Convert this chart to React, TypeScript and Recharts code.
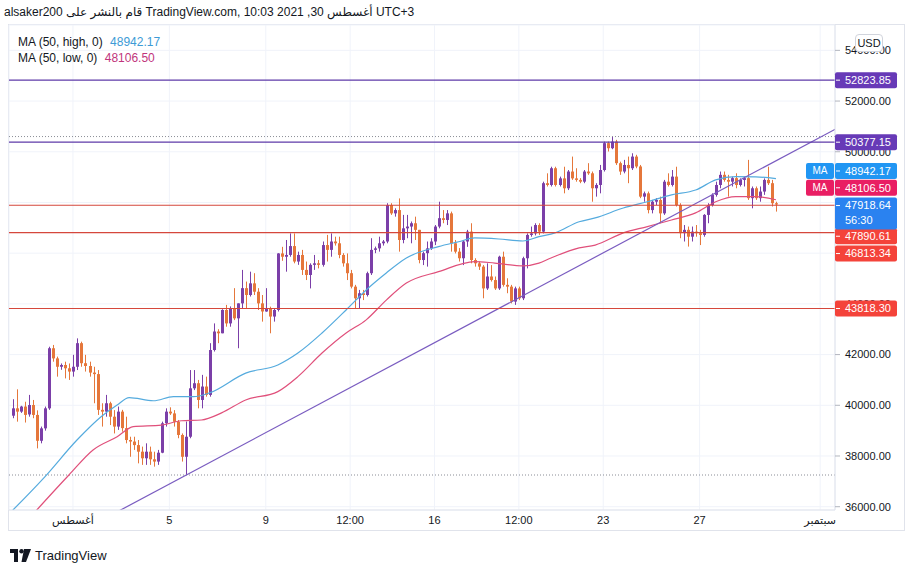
import React from "react"
import { ComposedChart, Bar, Line, XAxis, YAxis, CartesianGrid, ReferenceLine } from "recharts"

// 4h candles, UTC+3. bar 15 = Aug 1, last bar (190) = Aug 30 07:00
const opens = [
  39590, 39880, 39750, 39950, 39640, 40010, 39620, 38600, 39090, 39880, 42250, 41850, 41520, 41590, 41460, 41330, 41520, 42450, 41660, 41550,
  41290, 41230, 39820, 39750, 40080, 39550, 39160, 39750, 39100, 38630, 38570, 38430, 38170, 37910, 38170, 37870, 37780, 38130, 39290, 39750,
  39680, 39350, 38830, 37970, 38760, 40670, 40870, 40210, 40740, 40410, 42180, 42910, 42840, 43760, 43230, 43830, 43430, 44020, 44620, 44350,
  44810, 44480, 44020, 43700, 43830, 43500, 43760, 45990, 45860, 45930, 46280, 45670, 45930, 45340, 45140, 45540, 45600, 45540, 46320, 46130,
  46460, 46390, 45930, 45600, 45210, 44680, 44220, 44420, 44350, 45210, 46130, 46190, 46390, 46460, 47900, 47570, 47700, 46520, 46980, 47050,
  47180, 46920, 45730, 46000, 46190, 46460, 47050, 47380, 47310, 47570, 46390, 46060, 45800, 46460, 46850, 45730, 45600, 45470, 44610, 45080,
  44940, 44610, 45860, 44750, 44680, 44090, 44610, 44220, 45800, 46720, 46780, 47110, 46850, 48760, 48690, 49350, 48690, 48950, 48560, 49220,
  48950, 48890, 48820, 49220, 49150, 48560, 48690, 49280, 50340, 50140, 50400, 49550, 49220, 49480, 49350, 49810, 49420, 48230, 48360, 47700,
  48030, 48100, 47570, 48820, 48690, 49020, 47900, 46790, 46920, 46650, 46850, 46790, 46720, 47510, 47900, 48300, 48690, 49090, 48890, 48820,
  48960, 48690, 48890, 48960, 48170, 48560, 48170, 48430, 48890, 48760, 47970,
]
const highs = [
  40240, 40630, 39980, 40140, 40410, 40210, 39800, 39160, 39950, 42310, 42380, 41920, 41650, 41720, 41650, 41990, 42640, 42510, 41990, 41720,
  41520, 41390, 40080, 40410, 40140, 39810, 39950, 39820, 39550, 38760, 38760, 38630, 38370, 38500, 38370, 38170, 38240, 39355, 39880, 39920,
  39810, 39420, 38890, 39360, 41390, 41390, 41000, 41200, 41130, 42450, 43230, 43000, 43790, 43960, 43900, 44620, 44020, 45340, 44880, 45270,
  45210, 44620, 44350, 44620, 43890, 43830, 46000, 46250, 46520, 46780, 46780, 46060, 46130, 45670, 45600, 45930, 45730, 46460, 46720, 46780,
  46650, 46650, 46000, 45990, 45340, 44750, 44550, 44550, 45270, 46590, 46260, 46650, 46520, 47970, 47970, 47770, 48160, 47510, 47510, 47250,
  47440, 46920, 46060, 46460, 46590, 47110, 48030, 47700, 47700, 47640, 46520, 46200, 46520, 46920, 47180, 45800, 45670, 45530, 45600, 45530,
  45080, 45900, 46060, 45010, 44750, 44680, 44680, 45860, 46780, 47050, 47180, 47180, 48820, 49150, 49410, 49410, 49020, 49410, 49280, 49810,
  49350, 48960, 49280, 49550, 49220, 48760, 49480, 50400, 50400, 50600, 50470, 49610, 49680, 49810, 49940, 49880, 49480, 48430, 48430, 48100,
  48170, 48230, 48890, 49150, 49280, 49410, 47970, 47110, 47050, 47050, 47110, 46920, 47540, 47970, 48360, 48820, 49220, 49220, 49090, 49020,
  49150, 48950, 49020, 49680, 48630, 48630, 48630, 48950, 49410, 48890, 48030,
]
const lows = [
  39490, 39355, 39700, 39320, 39550, 39490, 38300, 38500, 39000, 39820, 41720, 41130, 41400, 41060, 41000, 41130, 41390, 41520, 41330, 41130,
  40080, 39620, 39160, 39550, 39220, 38890, 39030, 38960, 38500, 37970, 38240, 37710, 37650, 37650, 37650, 37580, 37650, 38110, 39160, 39620,
  39160, 38700, 37780, 37250, 38700, 40600, 39880, 39880, 40340, 40340, 42120, 42450, 42840, 43100, 43100, 43360, 42250, 43830, 43830, 44290,
  44350, 43760, 43300, 43690, 42840, 43300, 43700, 45700, 45270, 45860, 45600, 45540, 45140, 44940, 44610, 45340, 45400, 45470, 45670, 45860,
  46300, 45800, 45470, 44940, 44610, 43830, 43830, 44150, 44290, 45140, 46000, 46060, 46300, 46390, 47510, 47440, 46060, 46390, 46590, 46390,
  46520, 45600, 45530, 45470, 46130, 46320, 46980, 47180, 47110, 46060, 45990, 45670, 45530, 46250, 45600, 45470, 45340, 44220, 44550, 44880,
  44550, 44550, 44680, 44420, 44020, 43960, 44150, 44150, 45400, 46650, 46700, 46720, 46780, 48630, 48630, 48630, 48630, 48360, 48490, 48890,
  48820, 48760, 48760, 49090, 48030, 48230, 48360, 49220, 50010, 50100, 49480, 49090, 49150, 48760, 49280, 49350, 48170, 48030, 47570, 47570,
  47900, 47180, 47510, 48630, 48630, 47840, 46590, 46460, 46260, 46460, 46650, 46320, 46650, 47180, 47840, 48230, 48560, 48820, 48230, 48630,
  48560, 48630, 48630, 48100, 47770, 48100, 48030, 48300, 48690, 47840, 47640,
]
const closes = [
  39880, 39750, 39950, 39620, 40010, 39620, 38600, 39090, 39880, 42250, 41850, 41520, 41590, 41460, 41330, 41520, 42450, 41660, 41550, 41290,
  41230, 39820, 39750, 40080, 39550, 39160, 39750, 39100, 38630, 38570, 38430, 38170, 37910, 38170, 37870, 37780, 38130, 39290, 39750, 39680,
  39350, 38830, 37970, 38760, 40670, 40870, 40210, 40740, 40410, 42180, 42910, 42840, 43760, 43230, 43830, 43430, 44020, 44620, 44350, 44810,
  44480, 44020, 43700, 43830, 43500, 43760, 45990, 45860, 45930, 46280, 45670, 45930, 45340, 45140, 45540, 45600, 45540, 46320, 46130, 46460,
  46390, 45930, 45600, 45210, 44680, 44220, 44420, 44350, 45210, 46130, 46190, 46390, 46460, 47900, 47570, 47700, 46520, 46980, 47050, 47180,
  46920, 45730, 46000, 46190, 46460, 47050, 47380, 47310, 47570, 46390, 46060, 45800, 46460, 46850, 45730, 45600, 45470, 44610, 45080, 44940,
  44610, 45860, 44750, 44680, 44090, 44610, 44220, 45800, 46720, 46780, 47110, 46850, 48760, 48690, 49350, 48690, 48950, 48560, 49220, 48950,
  48890, 48820, 49220, 49150, 48560, 48690, 49280, 50340, 50140, 50400, 49550, 49220, 49480, 49350, 49810, 49420, 48230, 48360, 47700, 48030,
  48100, 47570, 48820, 48690, 49020, 47900, 46790, 46920, 46650, 46850, 46790, 46720, 47510, 47900, 48300, 48690, 49090, 48890, 48820, 48960,
  48690, 48890, 48960, 48170, 48560, 48170, 48430, 48890, 48760, 47970, 47918.64,
]

// MA(50) readings at some bars
const maHighBars = [0, 8, 16, 22, 26, 29, 35, 40, 45, 49, 58, 66, 71, 77, 83, 88, 93, 98, 106, 111, 115, 121, 127, 131, 135, 141, 145, 152, 158, 164, 170, 175, 180, 185, 190]
const maHighVals = [35860, 37180, 38630, 39550, 40010, 40300, 40180, 40340, 40340, 40490, 41270, 41590, 42060, 42850, 43760, 44550, 45220, 45810, 46260, 46450, 46600, 46560, 46480, 46650, 46800, 47240, 47390, 47780, 48030, 48300, 48490, 48890, 49020, 49010, 48942.17]
const maLowBars = [0, 6, 14, 20, 26, 30, 37, 42, 47, 52, 58, 66, 71, 77, 83, 88, 93, 98, 106, 115, 120, 127, 131, 134, 141, 145, 152, 158, 164, 170, 175, 180, 185, 190]
const maLowVals = [34800, 35870, 37250, 38240, 38760, 39160, 39220, 39390, 39420, 39700, 40210, 40540, 41130, 42060, 42850, 43370, 44150, 44820, 45270, 45670, 45610, 45500, 45610, 45810, 46210, 46320, 46800, 47050, 47310, 47590, 48030, 48230, 48230, 48106.5]

const tickBars = [15, 39, 63, 84, 105, 126, 147, 171, 201]
const tickLabels = ["أغسطس", "5", "9", "12:00", "16", "12:00", "23", "27", "سبتمبر"]
const priceTicks = [36000, 38000, 40000, 42000, 44000, 46000, 48000, 50000, 52000, 54000]

const purpleLevels = [52823.85, 50377.15]
const redLevels = [47890.61, 46813.34, 43818.3]
const redLabelShift = [31, 21, 0]
// trend line anchors [bar, price]
const trendPoints = [[20, 35290], [205, 50910]]

const UP = "#7b3fa8"
const DOWN = "#e5773b"
const MA_HIGH = "#55abde"
const MA_LOW = "#e0507b"

const X_DOMAIN: [number, number] = [-0.92, 204.7]
const Y_DOMAIN: [number, number] = [35870, 55000]

const data = opens.map((o, k) => {
  const hi = maHighBars.indexOf(k)
  const lo = maLowBars.indexOf(k)
  return {
    k,
    o,
    h: highs[k],
    l: lows[k],
    c: closes[k],
    range: [lows[k], highs[k]],
    maHigh: hi >= 0 ? maHighVals[hi] : null,
    maLow: lo >= 0 ? maLowVals[lo] : null,
  }
})

const maxHigh = Math.max(...highs)
const minLow = Math.min(...lows)

function Candle(props: any) {
  const { x, y, width, height, payload } = props
  if (!payload || height == null) return null
  const { o, h, l, c } = payload
  const color = c >= o ? UP : DOWN
  const per = height / (h - l || 1)
  const top = y + (h - Math.max(o, c)) * per
  const bodyH = Math.max(1, Math.abs(o - c) * per)
  const cx = Math.round(x + width / 2) + 0.5
  return (
    <g>
      <line x1={cx} x2={cx} y1={y} y2={y + height} stroke={color} strokeWidth={1} />
      <rect x={cx - 1.5} y={top} width={3} height={bodyH} fill={color} />
    </g>
  )
}

function PriceTag({ viewBox, value, bg, dy = 0, sub, ma }: any) {
  if (!viewBox) return null
  const x = viewBox.x + viewBox.width
  const cy = viewBox.y + dy
  const top = cy - 8
  return (
    <g>
      {ma && (
        <g>
          <rect x={x - 29} y={top} width={28} height={16} rx={2} fill={bg} />
          <text x={x - 15} y={cy} dy="0.35em" textAnchor="middle" fill="#fff" fontSize={10}>
            MA
          </text>
        </g>
      )}
      <rect x={x} y={top} width={62} height={sub ? 32 : 16} rx={2} fill={bg} />
      <line x1={x + 1} x2={x + 5} y1={cy} y2={cy} stroke="#fff" />
      <text x={x + 10} y={cy} dy="0.35em" fill="#fff" fontSize={11}>
        {value}
      </text>
      {sub && (
        <text x={x + 10} y={cy + 15} dy="0.35em" fill="#fff" fontSize={11}>
          {sub}
        </text>
      )}
    </g>
  )
}

function Logo() {
  return (
    <svg width="22" height="13" viewBox="0 0 22 13">
      <path d="M0 0h8v13H4V4H0z" fill="#131722" />
      <circle cx="11.5" cy="2.2" r="2.2" fill="#131722" />
      <path d="M14 0h7l-5 13h-4.5z" fill="#131722" />
    </svg>
  )
}

export default function App() {
  const lastHigh = maHighVals[maHighVals.length - 1]
  const lastLow = maLowVals[maLowVals.length - 1]
  const lastClose = closes[closes.length - 1]
  return (
    <div
      style={{
        position: "relative",
        width: 911,
        height: 573,
        background: "#fff",
        fontFamily: "'Liberation Sans', Arial, 'DejaVu Sans', sans-serif",
        color: "#131722",
        overflow: "hidden",
      }}
    >
      <style>{"body{margin:0}"}</style>
      <div style={{ position: "absolute", left: 4, top: 5, fontSize: 12, whiteSpace: "nowrap", direction: "ltr" }}>
        alsaker200 قام بالنشر على TradingView.com, أغسطس 30, 2021 10:03 UTC+3
      </div>
      <div style={{ position: "absolute", left: 8, top: 24, width: 895, height: 505, border: "1px solid #e0e3eb" }} />
      <div style={{ position: "absolute", left: 0, top: 0 }}>
        <ComposedChart width={911} height={573} data={data} margin={{ top: 25, right: 7, bottom: 43, left: 9 }}>
          <CartesianGrid stroke="#f0f3fa" />
          <XAxis
            dataKey="k"
            type="number"
            domain={X_DOMAIN}
            allowDataOverflow
            ticks={tickBars}
            interval={0}
            tickFormatter={(v: number) => tickLabels[tickBars.indexOf(v)]}
            height={20}
            tickLine={false}
            tickSize={0}
            tickMargin={6}
            axisLine={{ stroke: "#e0e3eb" }}
            tick={{ fontSize: 11, fill: "#131722" }}
          />
          <YAxis
            orientation="right"
            width={69}
            domain={Y_DOMAIN}
            allowDataOverflow
            ticks={priceTicks}
            interval={0}
            tickFormatter={(v: number) => v.toFixed(2)}
            tickSize={5}
            tickMargin={5}
            tickLine={{ stroke: "#b2b5be" }}
            axisLine={{ stroke: "#e0e3eb" }}
            tick={{ fontSize: 11, fill: "#131722", textAnchor: "start" }}
          />
          <ReferenceLine y={maxHigh} stroke="#8a8d96" strokeDasharray="1 2" />
          <ReferenceLine y={minLow} stroke="#8a8d96" strokeDasharray="1 2" />
          <Line type="monotone" dataKey="maHigh" stroke={MA_HIGH} strokeWidth={1.2} dot={false} connectNulls isAnimationActive={false} />
          <Line type="monotone" dataKey="maLow" stroke={MA_LOW} strokeWidth={1.2} dot={false} connectNulls isAnimationActive={false} />
          <Bar dataKey="range" barSize={3} shape={(p: any) => <Candle {...p} />} isAnimationActive={false} />
          <ReferenceLine
            segment={[
              { x: trendPoints[0][0], y: trendPoints[0][1] },
              { x: trendPoints[1][0], y: trendPoints[1][1] },
            ]}
            ifOverflow="hidden"
            stroke="#7a5cc0"
            strokeWidth={1.2}
          />
          {purpleLevels.map((v) => (
            <ReferenceLine key={v} y={v} stroke="#5e3aa8" strokeWidth={1.2} />
          ))}
          {redLevels.map((v) => (
            <ReferenceLine key={v} y={v} stroke="#d5473c" strokeWidth={1.2} />
          ))}
        </ComposedChart>
      </div>
      {/* price tags drawn in a second chart with the same scales, so they sit above the axis labels */}
      <div style={{ position: "absolute", left: 0, top: 0 }}>
        <ComposedChart width={911} height={573} data={data} margin={{ top: 25, right: 76, bottom: 63, left: 9 }}>
          <XAxis dataKey="k" type="number" domain={X_DOMAIN} allowDataOverflow hide />
          <YAxis domain={Y_DOMAIN} allowDataOverflow hide />
          {purpleLevels.map((v) => (
            <ReferenceLine
              key={v}
              y={v}
              stroke="none"
              label={(p: any) => <PriceTag viewBox={p.viewBox} value={v.toFixed(2)} bg="#673ab7" />}
            />
          ))}
          {redLevels.map((v, i) => (
            <ReferenceLine
              key={v}
              y={v}
              stroke="none"
              label={(p: any) => <PriceTag viewBox={p.viewBox} value={v.toFixed(2)} bg="#f4433a" dy={redLabelShift[i]} />}
            />
          ))}
          <ReferenceLine
            y={lastHigh}
            stroke="none"
            label={(p: any) => <PriceTag viewBox={p.viewBox} value={lastHigh.toFixed(2)} bg="#2196f3" dy={-7.6} ma />}
          />
          <ReferenceLine
            y={lastLow}
            stroke="none"
            label={(p: any) => <PriceTag viewBox={p.viewBox} value={lastLow.toFixed(2)} bg="#e91e63" dy={-12} ma />}
          />
          <ReferenceLine
            y={lastClose}
            stroke="none"
            label={(p: any) => <PriceTag viewBox={p.viewBox} value={lastClose.toFixed(2)} sub="56:30" bg="#2a82f0" dy={1} />}
          />
        </ComposedChart>
      </div>
      <div
        style={{
          position: "absolute",
          left: 855,
          top: 34,
          width: 26,
          height: 16,
          border: "1px solid #d1d4dc",
          borderRadius: 4,
          background: "#fff",
          fontSize: 11,
          lineHeight: "16px",
          textAlign: "center",
        }}
      >
        USD
      </div>
      <div style={{ position: "absolute", left: 18, top: 34, fontSize: 12, lineHeight: "16px", whiteSpace: "nowrap" }}>
        <div>
          MA (50, high, 0) <span style={{ color: "#3d9bd6", marginLeft: 4 }}>{lastHigh.toFixed(2)}</span>
        </div>
        <div>
          MA (50, low, 0) <span style={{ color: "#c1357c", marginLeft: 4 }}>{lastLow.toFixed(2)}</span>
        </div>
      </div>
      <div style={{ position: "absolute", left: 10, top: 548, display: "flex", alignItems: "center", gap: 3 }}>
        <Logo />
        <span style={{ fontSize: 13 }}>TradingView</span>
      </div>
    </div>
  )
}
